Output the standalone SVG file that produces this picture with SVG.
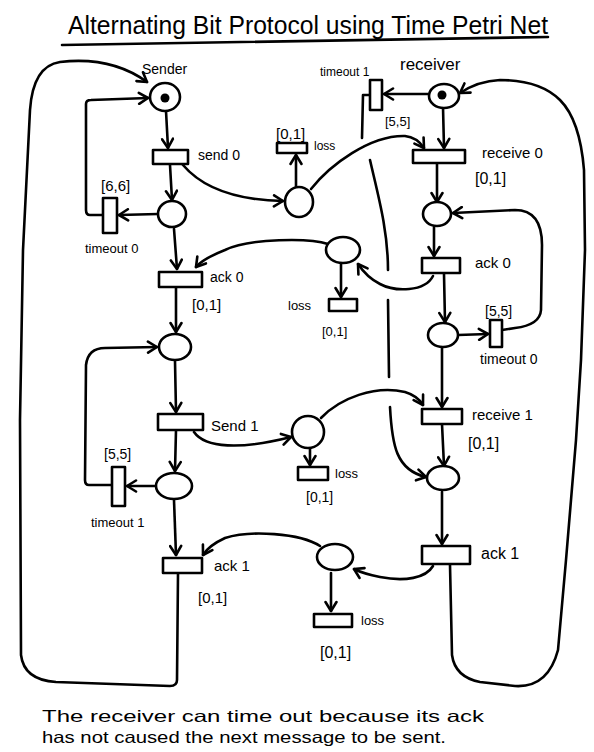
<svg xmlns="http://www.w3.org/2000/svg" width="594" height="752" viewBox="0 0 594 752">
<style>
text{font-family:"Liberation Sans","DejaVu Sans",sans-serif;fill:#000}
.pl{fill:#fff;stroke:#000;stroke-width:2.6}
.tr{fill:#fff;stroke:#000;stroke-width:2.6;stroke-linejoin:round}
.tok{fill:#000}
.c{fill:none;stroke:#000;stroke-width:2.6;stroke-linecap:round;stroke-linejoin:round}
.a{marker-end:url(#ah)}
</style>
<defs>
<marker id="ah" viewBox="-11 -7 13 14" refX="0" refY="0" markerWidth="13" markerHeight="14" markerUnits="userSpaceOnUse" orient="auto">
<path d="M-9,-5.5 L0,0 L-9,5.5" fill="none" stroke="#000" stroke-width="2.6" stroke-linecap="round" stroke-linejoin="round"/>
</marker>
</defs>
<rect width="594" height="752" fill="#fff"/>

<g id="title">
<text x="68" y="34" font-size="26" textLength="480" lengthAdjust="spacingAndGlyphs">Alternating Bit Protocol using Time Petri Net</text>
<path class="c" d="M62,45 Q300,42 548,37"/>
</g>

<g id="connectors">
<path class="c a" d="M166,111 L168,148"/>
<path class="c a" d="M170,165 L172,200"/>
<path class="c a" d="M158,214 L119,215"/>
<path class="c a" d="M103,215 L90,215 Q86,215 86,210 L86,104 Q86,100 91,100 L148,98"/>
<path class="c a" d="M183,165 C200,185 230,200 283,201"/>
<path class="c a" d="M296,187 L296,155"/>
<path class="c a" d="M311,189 C330,165 370,135 405,136 C415,137 420,142 424,148"/>
<path class="c a" d="M174,229 L177,269"/>
<path class="c a" d="M328,244 C310,238 250,238 225,250 C210,256 200,262 196,267"/>
<path class="c a" d="M176,288 L176,332"/>
<path class="c a" d="M175,361 L176,412"/>
<path class="c a" d="M176,430 L175,471"/>
<path class="c a" d="M155,486 L127,486"/>
<path class="c a" d="M112,485 L89,485 Q85,485 85,480 L86,365 Q88,348 105,348 L157,347"/>
<path class="c a" d="M194,432 C205,448 240,450 291,437"/>
<path class="c a" d="M310,448 L310,465"/>
<path class="c a" d="M321,418 C340,398 375,385 405,392 C415,395 420,400 423,405"/>
<path class="c a" d="M174,500 L176,555"/>
<path class="c a" d="M320,546 C300,533 250,530 225,538 C212,544 206,550 203,555"/>
<path class="c a" d="M341,264 L341,297"/>
<path class="c a" d="M443,107 L444,148"/>
<path class="c a" d="M428,94 L384,94"/>
<path class="c" d="M370,95 L363,95 L362,138"/>
<path class="c" d="M370,160 C378,195 388,230 388,270"/>
<path class="c" d="M388,300 L389,377"/>
<path class="c a" d="M390,407 C392,445 396,470 426,477"/>
<path class="c a" d="M437,164 L437,202"/>
<path class="c a" d="M502,330 L515,328 Q540,325 541,310 L542,245 Q542,210 515,210 L453,213"/>
<path class="c a" d="M434,227 L434,256"/>
<path class="c a" d="M444,274 L445,322"/>
<path class="c a" d="M433,276 C425,292 395,292 380,284 C370,279 362,270 358,264"/>
<path class="c a" d="M458,335 L488,334"/>
<path class="c a" d="M442,347 L442,407"/>
<path class="c a" d="M442,424 L444,466"/>
<path class="c a" d="M442,492 L442,544"/>
<path class="c a" d="M433,566 C426,578 405,582 380,577 C370,575 360,572 354,569"/>
<path class="c a" d="M331,573 L331,611"/>
<path class="c a" d="M178,574 L177,680 Q177,686 170,686 L56,682 Q24,680 21,655 L20,420 L23,250 L30,110 Q33,66 60,62 C95,58 125,66 147,82"/>
<path class="c a" d="M450,565 L452,655 Q455,677 480,682 L515,686 Q548,688 558,650 L566,560 L576,440 L581,360 L585,250 L584,170 Q580,120 560,100 Q540,80 500,80 Q478,81 460,93"/>
</g>

<g id="p-sender"><ellipse class="pl" cx="165" cy="97" rx="15" ry="14"/><circle class="tok" cx="165" cy="98" r="4.5"/><text x="142" y="74" font-size="14">Sender</text></g>
<g id="t-send0"><rect class="tr" x="153" y="150" width="35" height="14"/><text x="198" y="160" font-size="14">send 0</text></g>
<g id="p-s-wait0"><ellipse class="pl" cx="172" cy="214" rx="14" ry="13"/></g>
<g id="t-timeout0-s"><rect class="tr" x="103" y="198" width="14" height="35"/><text x="101" y="191" font-size="15">[6,6]</text><text x="85" y="253" font-size="13">timeout 0</text></g>
<g id="p-msg0"><ellipse class="pl" cx="299" cy="202" rx="14" ry="15"/></g>
<g id="t-loss-m0"><rect class="tr" x="277" y="143" width="30" height="10"/><text x="276" y="139" font-size="15">[0,1]</text><text x="314" y="150" font-size="12">loss</text></g>
<g id="t-ack0-s"><rect class="tr" x="159" y="272" width="43" height="15"/><text x="210" y="282" font-size="14">ack 0</text><text x="192" y="310" font-size="15">[0,1]</text></g>
<g id="p-ackmsg0"><ellipse class="pl" cx="343" cy="250" rx="17" ry="13"/></g>
<g id="t-loss-a0"><rect class="tr" x="329" y="299" width="28" height="12"/><text x="288" y="310" font-size="13">loss</text><text x="322" y="336" font-size="13">[0,1]</text></g>
<g id="p-s-after-ack0"><ellipse class="pl" cx="175" cy="347" rx="16" ry="13"/></g>
<g id="t-send1"><rect class="tr" x="158" y="414" width="45" height="16"/><text x="211" y="431" font-size="15">Send 1</text></g>
<g id="p-s-wait1"><ellipse class="pl" cx="174" cy="486" rx="18" ry="13"/></g>
<g id="t-timeout1-s"><rect class="tr" x="112" y="467" width="13" height="39"/><text x="104" y="459" font-size="14">[5,5]</text><text x="91" y="527" font-size="13">timeout 1</text></g>
<g id="p-msg1"><ellipse class="pl" cx="308" cy="432" rx="16" ry="16"/></g>
<g id="t-loss-m1"><rect class="tr" x="298" y="467" width="30" height="13"/><text x="335" y="478" font-size="13">loss</text><text x="306" y="502" font-size="14">[0,1]</text></g>
<g id="t-ack1-s"><rect class="tr" x="163" y="558" width="39" height="15"/><text x="214" y="571" font-size="15">ack 1</text><text x="198" y="603" font-size="15">[0,1]</text></g>
<g id="p-ackmsg1"><ellipse class="pl" cx="335" cy="557" rx="18" ry="13"/></g>
<g id="t-loss-a1"><rect class="tr" x="314" y="614" width="38" height="13"/><text x="361" y="625" font-size="13">loss</text><text x="320" y="658" font-size="16">[0,1]</text></g>

<g id="p-receiver"><ellipse class="pl" cx="444" cy="96" rx="15" ry="12"/><circle class="tok" cx="442" cy="95" r="4.5"/><text x="400" y="70" font-size="17">receiver</text></g>
<g id="t-timeout1-r"><rect class="tr" x="370" y="80" width="12" height="30"/><text x="320" y="76" font-size="12">timeout 1</text><text x="385" y="126" font-size="13">[5,5]</text></g>
<g id="t-receive0"><rect class="tr" x="413" y="150" width="52" height="13"/><text x="482" y="158" font-size="15">receive 0</text><text x="475" y="184" font-size="16">[0,1]</text></g>
<g id="p-r0"><ellipse class="pl" cx="437" cy="214" rx="14" ry="12"/></g>
<g id="t-ack0-r"><rect class="tr" x="422" y="258" width="38" height="15"/><text x="475" y="268" font-size="15">ack 0</text></g>
<g id="p-r-after-ack0"><ellipse class="pl" cx="443" cy="335" rx="15" ry="12"/></g>
<g id="t-timeout0-r"><rect class="tr" x="490" y="320" width="12" height="27"/><text x="485" y="316" font-size="14">[5,5]</text><text x="480" y="364" font-size="14">timeout 0</text></g>
<g id="t-receive1"><rect class="tr" x="422" y="409" width="40" height="15"/><text x="472" y="420" font-size="15">receive 1</text><text x="468" y="449" font-size="16">[0,1]</text></g>
<g id="p-r1"><ellipse class="pl" cx="443" cy="478" rx="16" ry="12"/></g>
<g id="t-ack1-r"><rect class="tr" x="422" y="546" width="48" height="18"/><text x="481" y="559" font-size="16">ack 1</text></g>

<g id="note">
<text x="42" y="722" font-size="16.5" textLength="442" lengthAdjust="spacingAndGlyphs">The receiver can time out  because its ack</text>
<text x="42" y="743" font-size="16.5" textLength="404" lengthAdjust="spacingAndGlyphs">has not caused the next message to be sent.</text>
</g>
</svg>
